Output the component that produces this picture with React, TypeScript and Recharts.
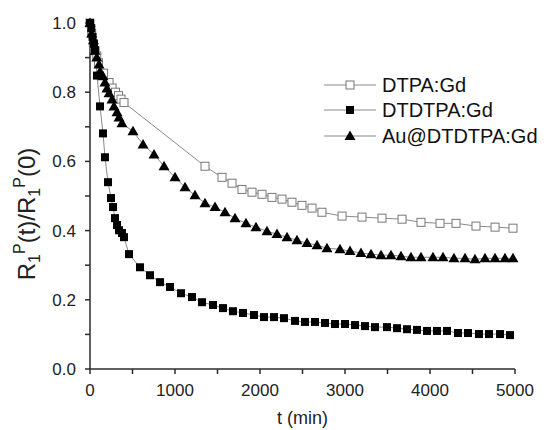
import React from "react";
import { LineChart, Line, XAxis, YAxis } from "recharts";

// relaxation ratio R1p(t)/R1p(0) vs time (min)
const dtpaGd = [
  { t: 0, r: 1.0 }, { t: 20, r: 0.97 }, { t: 40, r: 0.94 }, { t: 60, r: 0.92 },
  { t: 80, r: 0.905 }, { t: 100, r: 0.885 }, { t: 160, r: 0.855 }, { t: 224, r: 0.828 },
  { t: 260, r: 0.812 }, { t: 300, r: 0.8 }, { t: 335, r: 0.79 }, { t: 365, r: 0.78 },
  { t: 400, r: 0.77 }, { t: 1353, r: 0.586 }, { t: 1553, r: 0.554 }, { t: 1671, r: 0.537 },
  { t: 1788, r: 0.519 }, { t: 1906, r: 0.511 }, { t: 2024, r: 0.505 }, { t: 2141, r: 0.496 },
  { t: 2259, r: 0.491 }, { t: 2376, r: 0.482 }, { t: 2494, r: 0.473 }, { t: 2612, r: 0.465 },
  { t: 2729, r: 0.453 }, { t: 2965, r: 0.442 }, { t: 3200, r: 0.439 }, { t: 3435, r: 0.436 },
  { t: 3671, r: 0.433 }, { t: 3894, r: 0.424 }, { t: 4118, r: 0.421 }, { t: 4306, r: 0.421 },
  { t: 4541, r: 0.413 }, { t: 4765, r: 0.41 }, { t: 4976, r: 0.407 },
];

const dtdtpaGd = [
  { t: 0, r: 1.0 }, { t: 15, r: 0.985 }, { t: 30, r: 0.96 }, { t: 45, r: 0.94 },
  { t: 59, r: 0.921 }, { t: 82, r: 0.848 }, { t: 118, r: 0.759 }, { t: 153, r: 0.681 },
  { t: 176, r: 0.612 }, { t: 212, r: 0.54 }, { t: 247, r: 0.494 }, { t: 271, r: 0.468 },
  { t: 294, r: 0.436 }, { t: 318, r: 0.416 }, { t: 341, r: 0.401 }, { t: 376, r: 0.393 },
  { t: 400, r: 0.381 }, { t: 459, r: 0.332 }, { t: 588, r: 0.294 }, { t: 706, r: 0.271 },
  { t: 824, r: 0.251 }, { t: 941, r: 0.237 }, { t: 1071, r: 0.219 }, { t: 1200, r: 0.208 },
  { t: 1318, r: 0.193 }, { t: 1447, r: 0.185 }, { t: 1565, r: 0.176 }, { t: 1682, r: 0.167 },
  { t: 1800, r: 0.162 }, { t: 1929, r: 0.156 }, { t: 2047, r: 0.15 }, { t: 2165, r: 0.15 },
  { t: 2282, r: 0.147 }, { t: 2412, r: 0.139 }, { t: 2529, r: 0.136 }, { t: 2647, r: 0.136 },
  { t: 2765, r: 0.133 }, { t: 2882, r: 0.13 }, { t: 3000, r: 0.13 }, { t: 3118, r: 0.127 },
  { t: 3235, r: 0.124 }, { t: 3353, r: 0.121 }, { t: 3494, r: 0.121 }, { t: 3612, r: 0.118 },
  { t: 3729, r: 0.115 }, { t: 3847, r: 0.113 }, { t: 3965, r: 0.11 }, { t: 4082, r: 0.11 },
  { t: 4200, r: 0.11 }, { t: 4329, r: 0.104 }, { t: 4447, r: 0.104 }, { t: 4576, r: 0.101 },
  { t: 4694, r: 0.101 }, { t: 4824, r: 0.101 }, { t: 4941, r: 0.098 },
];

const auDtdtpaGd = [
  { t: 0, r: 1.0 }, { t: 20, r: 0.97 }, { t: 40, r: 0.95 }, { t: 60, r: 0.92 },
  { t: 80, r: 0.9 }, { t: 106, r: 0.88 }, { t: 118, r: 0.86 }, { t: 153, r: 0.846 },
  { t: 176, r: 0.828 }, { t: 200, r: 0.811 }, { t: 224, r: 0.797 }, { t: 259, r: 0.779 },
  { t: 282, r: 0.759 }, { t: 318, r: 0.742 }, { t: 341, r: 0.727 }, { t: 376, r: 0.71 },
  { t: 506, r: 0.687 }, { t: 624, r: 0.649 }, { t: 753, r: 0.62 }, { t: 871, r: 0.586 },
  { t: 1000, r: 0.554 }, { t: 1118, r: 0.525 }, { t: 1235, r: 0.502 }, { t: 1353, r: 0.479 },
  { t: 1471, r: 0.468 }, { t: 1588, r: 0.453 }, { t: 1706, r: 0.436 }, { t: 1835, r: 0.421 },
  { t: 1953, r: 0.41 }, { t: 2082, r: 0.398 }, { t: 2200, r: 0.39 }, { t: 2318, r: 0.381 },
  { t: 2435, r: 0.372 }, { t: 2553, r: 0.364 }, { t: 2671, r: 0.358 }, { t: 2788, r: 0.349 },
  { t: 2941, r: 0.346 }, { t: 3059, r: 0.341 }, { t: 3188, r: 0.335 }, { t: 3306, r: 0.332 },
  { t: 3424, r: 0.329 }, { t: 3541, r: 0.329 }, { t: 3659, r: 0.326 }, { t: 3776, r: 0.323 },
  { t: 3894, r: 0.323 }, { t: 4035, r: 0.323 }, { t: 4153, r: 0.323 }, { t: 4282, r: 0.32 },
  { t: 4412, r: 0.32 }, { t: 4529, r: 0.317 }, { t: 4647, r: 0.32 }, { t: 4765, r: 0.32 },
  { t: 4882, r: 0.32 }, { t: 4976, r: 0.32 },
];

const xTicks = [0, 500, 1000, 1500, 2000, 2500, 3000, 3500, 4000, 4500, 5000];
const yTicks = [0, 0.1, 0.2, 0.3, 0.4, 0.5, 0.6, 0.7, 0.8, 0.9, 1.0];
const seriesNames = ["DTPA:Gd", "DTDTPA:Gd", "Au@DTDTPA:Gd"];

const FONT = "'Liberation Sans', Arial, sans-serif";
const AXIS = "#2b2b2b";
const LINE = "#8a8a8a";

const OpenSquare = (p: any) => {
  if (p.cx == null || p.cy == null) return <g key={p.key} />;
  return <rect key={p.key} x={p.cx - 4} y={p.cy - 4} width={8} height={8} fill="#fff" stroke="#777" strokeWidth={1} />;
};
const FilledSquare = (p: any) => {
  if (p.cx == null || p.cy == null) return <g key={p.key} />;
  return <rect key={p.key} x={p.cx - 4} y={p.cy - 4} width={8} height={8} fill="#000" />;
};
const Triangle = (p: any) => {
  if (p.cx == null || p.cy == null) return <g key={p.key} />;
  const { cx, cy } = p;
  return <path key={p.key} d={`M${cx},${cy - 5.5} L${cx + 5.5},${cy + 4} L${cx - 5.5},${cy + 4} Z`} fill="#000" />;
};

const YTitle = () => (
  <text transform="translate(35,214) rotate(-90)" textAnchor="middle" fontFamily={FONT} fontSize={24} fill="#222">
    R<tspan fontSize={16} dy={5}>1</tspan>
    <tspan fontSize={16} dy={-15}>P</tspan>
    <tspan dy={10}>(t)/R</tspan>
    <tspan fontSize={16} dy={5}>1</tspan>
    <tspan fontSize={16} dy={-15}>P</tspan>
    <tspan dy={10}>(0)</tspan>
  </text>
);

const LegendIcon = ({ i }: { i: number }) => (
  <svg width={52} height={14} style={{ display: "block" }}>
    <line x1={0} y1={7} x2={52} y2={7} stroke={LINE} strokeWidth={1} />
    {i === 0 && <rect x={22} y={3} width={8} height={8} fill="#fff" stroke="#777" />}
    {i === 1 && <rect x={22} y={3} width={8} height={8} fill="#000" />}
    {i === 2 && <path d="M26,1.5 L31.5,11 L20.5,11 Z" fill="#000" />}
  </svg>
);

export default function App() {
  return (
    <div style={{ position: "absolute", left: 0, top: 0, width: 546, height: 430, background: "#fff" }}>
      <LineChart width={546} height={430} margin={{ top: 23, right: 31, bottom: 21, left: 30 }}>
        <XAxis
          dataKey="t"
          type="number"
          domain={[0, 5000]}
          ticks={xTicks}
          allowDuplicatedCategory={false}
          tickFormatter={(v: number) => (v % 1000 === 0 ? String(v) : "")}
          height={40}
          tickSize={5}
          tickMargin={10}
          stroke={AXIS}
          strokeWidth={1.5}
          tick={{ fill: "#222", fontSize: 17, fontFamily: FONT }}
          label={{ value: "t (min)", position: "insideBottom", offset: -15, fill: "#222", fontSize: 18, fontFamily: FONT }}
        />
        <YAxis
          type="number"
          domain={[0, 1]}
          ticks={yTicks}
          tickFormatter={(v: number) => (Math.round(v * 10) % 2 === 0 ? v.toFixed(1) : "")}
          width={60}
          tickSize={5}
          tickMargin={9}
          stroke={AXIS}
          strokeWidth={1.5}
          tick={{ fill: "#222", fontSize: 17, fontFamily: FONT }}
          label={<YTitle />}
        />
        <Line data={dtpaGd} dataKey="r" name={seriesNames[0]} type="linear" stroke={LINE} strokeWidth={1} dot={OpenSquare} activeDot={false} isAnimationActive={false} />
        <Line data={dtdtpaGd} dataKey="r" name={seriesNames[1]} type="linear" stroke={LINE} strokeWidth={1} dot={FilledSquare} activeDot={false} isAnimationActive={false} />
        <Line data={auDtdtpaGd} dataKey="r" name={seriesNames[2]} type="linear" stroke={LINE} strokeWidth={1} dot={Triangle} activeDot={false} isAnimationActive={false} />
      </LineChart>
      <div style={{ position: "absolute", left: 324, top: 72, fontFamily: FONT, fontSize: 20, color: "#111" }}>
        {seriesNames.map((n, i) => (
          <div key={n} style={{ display: "flex", alignItems: "center", height: 25.5 }}>
            <LegendIcon i={i} />
            <span style={{ marginLeft: 6, lineHeight: "20px" }}>{n}</span>
          </div>
        ))}
      </div>
    </div>
  );
}
